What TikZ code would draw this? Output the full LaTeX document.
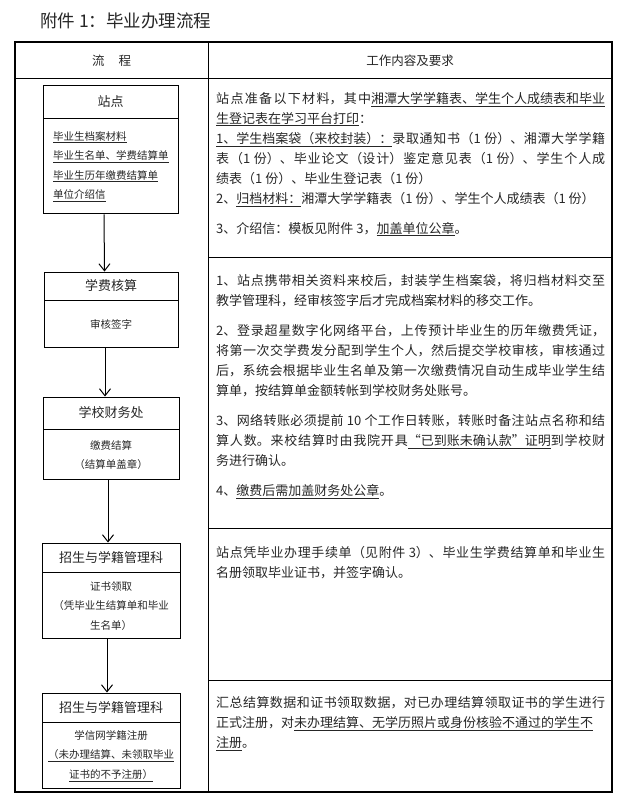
\documentclass[tikz,border=0pt]{standalone}
\usepackage{fontspec}
\setmainfont{Noto Sans CJK SC}
\usetikzlibrary{arrows.meta}
\XeTeXlinebreaklocale "zh"
\XeTeXlinebreakskip=0pt plus 2pt
\tolerance=9999
\hbadness=10000

\begin{document}
\begin{tikzpicture}
[every node/.style={inner sep=0pt, text=black!85},
 headbox/.style={rectangle, draw=black, line width=0.9pt, font=\fontsize{13}{15}\selectfont},
 bodybox/.style={rectangle, draw=black, line width=0.9pt, anchor=north, align=center, font=\fontsize{10.5}{19.5}\selectfont},
 flowarrow/.style={line width=1pt, -{Straight Barb[length=7pt, width=11pt]}},
 desc/.style={anchor=north west, text width=389pt, align=justify, font=\fontsize{13}{20}\selectfont}]
\useasboundingbox (0pt,0pt) rectangle (625pt,-802pt);
% title and table
\node (title) [anchor=west, font=\fontsize{17.5}{20}\selectfont] at (40pt, -21pt) {附件 1：毕业办理流程};
\draw [line width=1.2pt] (15pt, -42pt) rectangle (612pt, -792pt);
\draw [line width=1pt] (15pt, -79pt) -- (612pt, -79pt);
\draw [line width=1pt] (208pt, -42pt) -- (208pt, -792pt);
\draw [line width=1pt] (208pt, -257pt) -- (612pt, -257pt);
\draw [line width=1pt] (208pt, -528pt) -- (612pt, -528pt);
\draw [line width=1pt] (208pt, -680pt) -- (612pt, -680pt);
\node (hflow) [font=\fontsize{12.5}{15}\selectfont] at (111.5pt, -61pt) {流\hspace{14pt}程};
\node (hwork) [font=\fontsize{12.5}{15}\selectfont] at (410pt, -61pt) {工作内容及要求};
% flow boxes
\node (zd) [headbox, minimum width=135pt, minimum height=33pt] at (110.5pt, -101.5pt) {站点};
\node (zdb) [bodybox, minimum width=135pt, minimum height=95pt, text width=115pt, align=left] at (zd.south) {\underline{毕业生档案材料}\\\underline{毕业生名单、学费结算单}\\\underline{毕业生历年缴费结算单}\\\underline{单位介绍信}};
\node (xf) [headbox, minimum width=134pt, minimum height=28pt] at (111pt, -286pt) {学费核算};
\node (xfb) [bodybox, minimum width=134pt, minimum height=47pt] at (xf.south) {审核签字};
\node (cw) [headbox, minimum width=136pt, minimum height=32pt] at (111pt, -413pt) {学校财务处};
\node (cwb) [bodybox, minimum width=136pt, minimum height=50pt] at (cw.south) {缴费结算\\（结算单盖章）};
\node (zs) [headbox, minimum width=138pt, minimum height=29pt] at (111pt, -557.5pt) {招生与学籍管理科};
\node (zsb) [bodybox, minimum width=138pt, minimum height=66pt] at (zs.south) {证书领取\\（凭毕业生结算单和毕业\\生名单）};
\node (zc) [headbox, minimum width=138pt, minimum height=29pt] at (111pt, -707.5pt) {招生与学籍管理科};
\node (zcb) [bodybox, minimum width=138pt, minimum height=66pt] at (zc.south) {学信网学籍注册\\\underline{（未办理结算、未领取毕业}\\\underline{证书的不予注册）}};
\draw [flowarrow] ([xshift=-6.5pt]zdb.south) -- ([xshift=-6.5pt]xf.north);
\draw [flowarrow] ([xshift=-6pt]xfb.south) -- ([xshift=-6pt]cw.north);
\draw [flowarrow] ([xshift=-3pt]cwb.south) -- ([xshift=-3pt]zs.north);
\draw [flowarrow] ([xshift=-4pt]zsb.south) -- ([xshift=-4pt]zc.north);
% work contents
\node (zdtext) [desc] at (216pt, -92pt) {站点准备以下材料，其中\underline{湘潭大学学籍表、学生个人成绩表和毕业}\linebreak
\underline{生登记表在学习平台打印}：\\
\underline{1、学生档案袋（来校封装）：}录取通知书（1 份）、湘潭大学学籍\linebreak
表（1 份）、毕业论文（设计）鉴定意见表（1 份）、学生个人成\linebreak
绩表（1 份）、毕业生登记表（1 份）\\
2、\underline{归档材料：}湘潭大学学籍表（1 份）、学生个人成绩表（1 份）\\[10pt]
3、介绍信：模板见附件 3，\underline{加盖单位公章}。};
\node (xftext) [desc] at (216pt, -274pt) {1、站点携带相关资料来校后，封装学生档案袋，将归档材料交至\linebreak
教学管理科，经审核签字后才完成档案材料的移交工作。\\[10pt]
2、登录超星数字化网络平台，上传预计毕业生的历年缴费凭证，\linebreak
将第一次交学费发分配到学生个人，然后提交学校审核，审核通过\linebreak
后，系统会根据毕业生名单及第一次缴费情况自动生成毕业学生结\linebreak
算单，按结算单金额转帐到学校财务处账号。\\[10pt]
3、网络转账必须提前 10 个工作日转账，转账时备注站点名称和结\linebreak
算人数。来校结算时由我院开具\underline{“已到账未确认款”证明}到学校财\linebreak
务进行确认。\\[10pt]
4、\underline{缴费后需加盖财务处公章}。};
\node (zstext) [desc] at (216pt, -546pt) {站点凭毕业办理手续单（见附件 3）、毕业生学费结算单和毕业生\linebreak
名册领取毕业证书，并签字确认。};
\node (zctext) [desc] at (216pt, -696pt) {汇总结算数据和证书领取数据，对已办理结算领取证书的学生进行\linebreak
正式注册，对\underline{未办理结算、无学历照片或身份核验不通过的学生不}\\
\underline{注册}。};
\end{tikzpicture}
\end{document}
